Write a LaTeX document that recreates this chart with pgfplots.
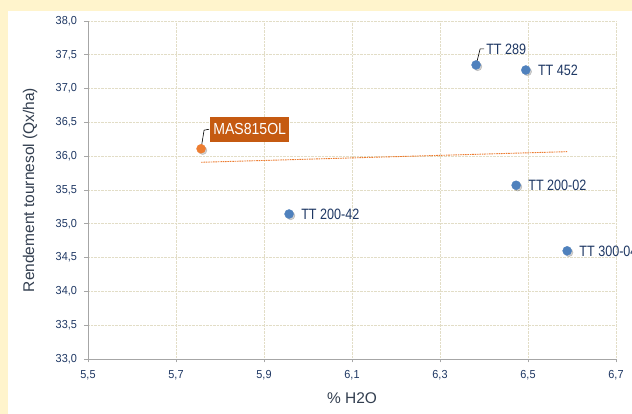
\documentclass[border=0pt]{standalone}
\usepackage{pgfplots}
\pgfplotsset{compat=1.18}
\usepackage{fontspec}
\setmainfont{Liberation Sans}
\newfontfamily\narrowA[FakeStretch=0.84]{Liberation Sans}
\newfontfamily\narrowB[FakeStretch=0.88]{Liberation Sans}
\newfontfamily\narrowT[FakeStretch=0.94]{Liberation Sans}
\definecolor{bgyel}{HTML}{FFF4CC}
\definecolor{gridc}{HTML}{E2DDC6}
\definecolor{axc}{HTML}{A6A6A6}
\definecolor{navy}{HTML}{1F3864}
\definecolor{titc}{HTML}{333F50}
\definecolor{ptblue}{HTML}{4F81BD}
\definecolor{ptor}{HTML}{ED7D31}
\definecolor{boxor}{HTML}{C55A11}
\begin{document}
\begin{tikzpicture}
\useasboundingbox (-88pt,-55pt) rectangle (544pt,359pt);
\clip (-88pt,-55pt) rectangle (544pt,359pt);
\fill[bgyel] (-88pt,-55pt) rectangle (544pt,359pt);
\fill[white] (-80pt,-55pt) rectangle (544pt,348pt);
\begin{axis}[
  at={(0,0)}, anchor=south west,
  scale only axis, width=528pt, height=338pt,
  xmin=5.5, xmax=6.7, ymin=33, ymax=38,
  xtick={5.5,5.7,5.9,6.1,6.3,6.5,6.7},
  ytick={33,33.5,34,34.5,35,35.5,36,36.5,37,37.5,38},
  axis x line*=bottom, axis y line*=left,
  axis line style={draw=axc, line width=0.8pt, -},
  tick style={draw=axc, line width=0.6pt},
  tick align=outside, major tick length=3.5pt,
  grid=major,
  major grid style={densely dotted, draw=gridc, line width=0.8pt},
  /pgf/number format/assume math mode=true,
  /pgf/number format/.cd, use comma, fixed, fixed zerofill, precision=1,
  /pgfplots/.cd,
  ticklabel style={font=\narrowT\fontsize{11.6}{13}\selectfont, text=navy},
  xticklabel style={yshift=-4pt},
  yticklabel style={xshift=-4pt},
  xlabel={\% H2O},
  ylabel={Rendement tournesol (Qx/ha)},
  label style={font=\fontsize{15.5}{18}\selectfont, text=titc},
  xlabel style={at={(axis description cs:0.5,-0.1154)}, anchor=center},
  ylabel style={at={(axis description cs:-0.1098,0.5)}, anchor=center},
  clip=false,
]
% trend line
\addplot[ptor, dash pattern=on 1.6pt off 0.8pt, line width=0.9pt] coordinates {(5.757,35.910) (6.589,36.067)};
% shadows
\addplot[only marks, mark=*, mark size=4.3pt, color=black, opacity=0.18,
  mark options={xshift=1.6pt, yshift=-1.6pt, draw=none}]
  coordinates {(5.757,36.11) (6.382,37.35) (6.495,37.275) (6.473,35.57) (5.957,35.145) (6.589,34.60)};
% blue points with right labels
\addplot[only marks, mark=*, mark size=4.5pt, color=ptblue,
  point meta=explicit symbolic,
  nodes near coords,
  nodes near coords style={anchor=west, inner sep=0pt, xshift=12pt, yshift=-0.5pt,
     font=\narrowA\fontsize{15}{17}\selectfont, text=navy}]
  coordinates {(6.495,37.275) [TT 452] (6.473,35.57) [TT 200-02] (5.957,35.145) [TT 200-42] (6.589,34.60) [TT 300-04]};
% TT 289
\addplot[only marks, mark=*, mark size=4.5pt, color=ptblue,
  point meta=explicit symbolic,
  nodes near coords,
  nodes near coords style={anchor=west, inner sep=0pt, xshift=10pt, yshift=16pt,
     font=\narrowA\fontsize{15}{17}\selectfont, text=navy}]
  coordinates {(6.382,37.35) [TT 289]};
% MAS815OL
\addplot[only marks, mark=*, mark size=4.5pt, color=ptor,
  point meta=explicit symbolic,
  nodes near coords,
  nodes near coords style={anchor=west, fill=boxor, inner xsep=3pt, inner ysep=0pt,
     minimum height=25pt, xshift=9pt, yshift=19.5pt,
     font=\narrowB\fontsize{16}{18}\selectfont, text=white}]
  coordinates {(5.757,36.11) [MAS815OL]};
% leader lines
\draw[black, line width=0.6pt] (axis cs:6.382,37.35) -- ++(4pt,16pt) -- ++(4pt,0pt);
\draw[black, line width=0.6pt] (axis cs:5.757,36.11) -- ++(3pt,18.6pt) -- ++(5pt,0.9pt);
\end{axis}
\end{tikzpicture}
\end{document}
